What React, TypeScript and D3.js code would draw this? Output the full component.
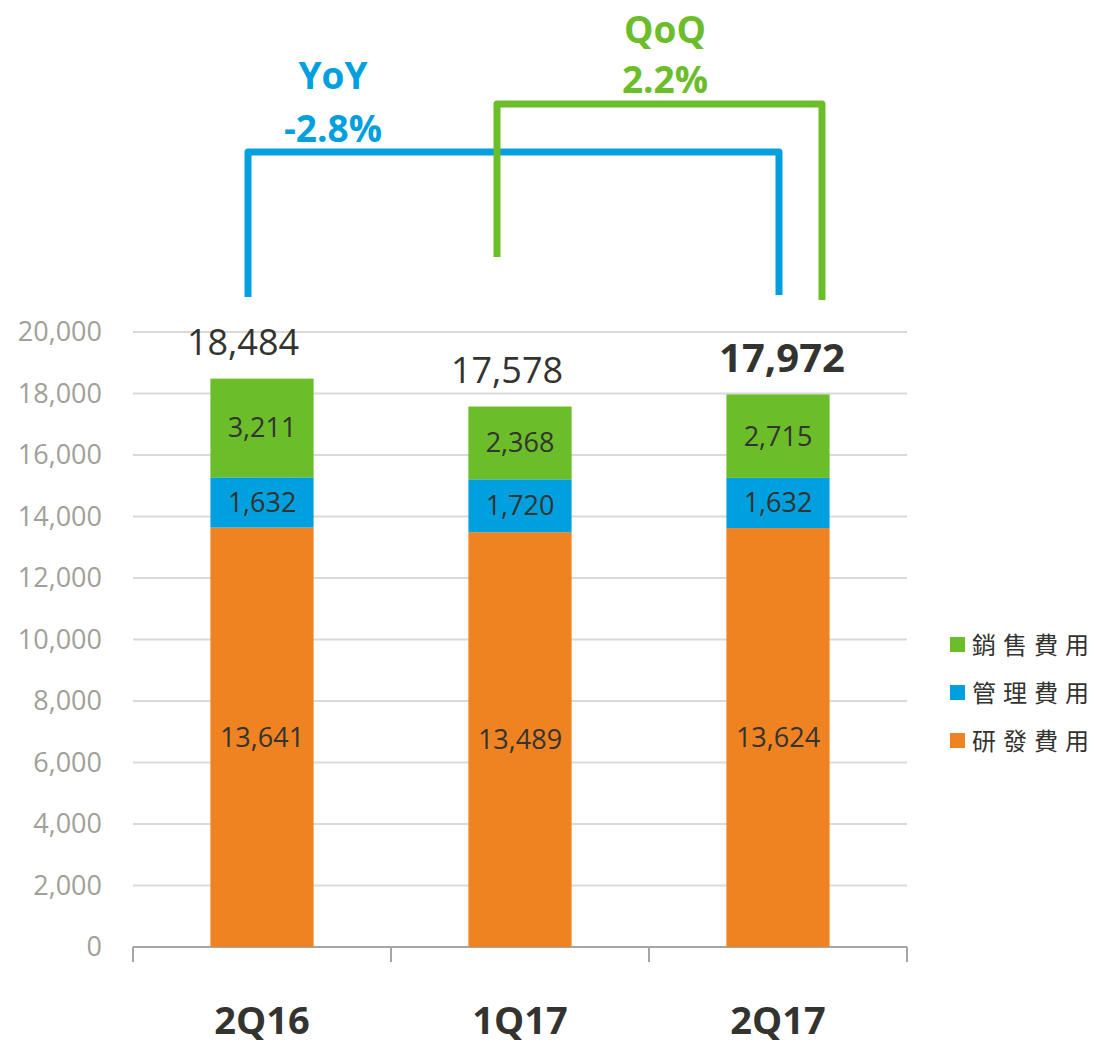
import React from "react";
import * as d3 from "d3";

const categories = ["2Q16", "1Q17", "2Q17"];
const seriesNames = ["研發費用", "管理費用", "銷售費用"];
const rd = [13641, 13489, 13624];
const admin = [1632, 1720, 1632];
const sales = [3211, 2368, 2715];
const totals = [18484, 17578, 17972];
const yTicks = [0, 2000, 4000, 6000, 8000, 10000, 12000, 14000, 16000, 18000, 20000];
const colors = ["#f08321", "#00a0de", "#6bbd2a"];
const yoyLabel = ["YoY", "-2.8%"];
const qoqLabel = ["QoQ", "2.2%"];

const W = 1098;
const H = 1044;
const left = 133;
const right = 907;
const top = 332;
const bottom = 947;
const font = "'Open Sans', sans-serif";
const totalDx = [-19, -13, 4];

export default function App() {
  const x = d3.scaleBand<string>().domain(categories).range([left, right]).paddingInner(0.6).paddingOuter(0.3);
  const y = d3.scaleLinear().domain([0, 20000]).range([bottom, top]);
  const rows = categories.map((c, i) => ({ c, vals: [rd[i], admin[i], sales[i]] }));
  const stack = d3.stack<any>().keys(["0", "1", "2"]).value((d: any, k: string) => d.vals[+k]);
  const stacked = stack(rows);
  const bw = x.bandwidth();
  const cx = (c: string) => (x(c) as number) + bw / 2;
  const step = x.step();

  const bx0 = cx(categories[0]) - 14;
  const bx1 = cx(categories[2]) + 1;
  const gx0 = cx(categories[1]) - 23;
  const gx1 = cx(categories[2]) + 44;

  return (
    <svg width={W} height={H} style={{ position: "absolute", left: 0, top: 0, background: "#fff" }}>
      {yTicks.map((t) => (
        <g key={t}>
          {t > 0 && <line x1={left} x2={right} y1={y(t)} y2={y(t)} stroke="#d9d9d9" strokeWidth={2} />}
          <text x={102} y={y(t)} dy="0.35em" textAnchor="end" fontFamily={font} fontSize={27} fill="#a09f98">
            {d3.format(",")(t)}
          </text>
        </g>
      ))}
      <line x1={left} x2={right} y1={bottom} y2={bottom} stroke="#a6a6a6" strokeWidth={2} />
      {[0, 1, 2, 3].map((i) => (
        <line key={i} x1={left + i * step} x2={left + i * step} y1={bottom} y2={962} stroke="#a6a6a6" strokeWidth={2} />
      ))}
      {stacked.map((s, si) => (
        <g key={si}>
          {s.map((d: any, i: number) => (
            <g key={i}>
              <rect x={x(categories[i])} width={bw} y={y(d[1])} height={y(d[0]) - y(d[1])} fill={colors[si]} />
              <text x={cx(categories[i])} y={(y(d[0]) + y(d[1])) / 2} dy="0.35em" textAnchor="middle" fontFamily={font} fontSize={27} fill="#333330">
                {d3.format(",")(rows[i].vals[si])}
              </text>
            </g>
          ))}
        </g>
      ))}
      {categories.map((c, i) => (
        <text key={c} x={cx(c) + totalDx[i]} y={y(totals[i]) - 36} dy="0.35em" textAnchor="middle" fontFamily={font} fontSize={i === 2 ? 40 : 36} fontWeight={i === 2 ? 700 : 400} fill="#333330">
          {d3.format(",")(totals[i])}
        </text>
      ))}
      {categories.map((c) => (
        <text key={c} x={cx(c)} y={1034} textAnchor="middle" fontFamily={font} fontSize={38} fontWeight={700} fill="#333330">
          {c}
        </text>
      ))}
      {/* YoY bracket */}
      <path d={`M${bx0},297 V152 H${bx1} V295`} fill="none" stroke="#00a0de" strokeWidth={7} strokeLinejoin="round" />
      <text x={333} y={76} dy="0.35em" textAnchor="middle" fontFamily={font} fontSize={37} fontWeight={700} fill="#00a0de">{yoyLabel[0]}</text>
      <text x={333} y={129} dy="0.35em" textAnchor="middle" fontFamily={font} fontSize={37} fontWeight={700} fill="#00a0de">{yoyLabel[1]}</text>
      {/* QoQ bracket */}
      <path d={`M${gx0},257 V104 H${gx1} V300`} fill="none" stroke="#6bbd2a" strokeWidth={7} strokeLinejoin="round" />
      <text x={665} y={30} dy="0.35em" textAnchor="middle" fontFamily={font} fontSize={37} fontWeight={700} fill="#6bbd2a">{qoqLabel[0]}</text>
      <text x={665} y={80} dy="0.35em" textAnchor="middle" fontFamily={font} fontSize={37} fontWeight={700} fill="#6bbd2a">{qoqLabel[1]}</text>
      {/* legend */}
      {[2, 1, 0].map((si, r) => (
        <g key={si}>
          <rect x={950} y={637 + r * 48} width={15} height={15} fill={colors[si]} />
          <text x={972} y={646 + r * 48} dy="0.35em" fontFamily="'Noto Sans CJK TC', sans-serif" fontSize={24} letterSpacing={7} fill="#333330">
            {seriesNames[si]}
          </text>
        </g>
      ))}
    </svg>
  );
}
